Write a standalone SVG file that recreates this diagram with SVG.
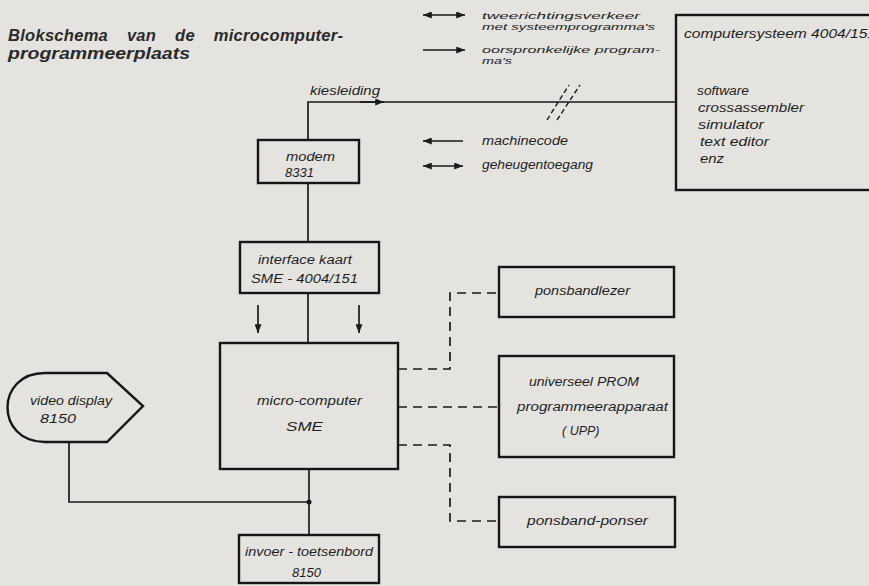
<svg xmlns="http://www.w3.org/2000/svg" width="869" height="586" viewBox="0 0 869 586">
<defs>
<style>
.bg{fill:#e4e3e0}
.box{fill:none;stroke:#161616;stroke-width:2.4}
.ln{fill:none;stroke:#1a1a1a;stroke-width:1.7}
.dash{fill:none;stroke:#1a1a1a;stroke-width:1.7;stroke-dasharray:9,6}
.sl{fill:none;stroke:#1a1a1a;stroke-width:1.4;stroke-dasharray:5,3}
.t{font-family:"Liberation Sans",Arial,sans-serif;font-style:italic;font-size:12.5px;fill:#1e1e1e}
.s{font-size:9.5px}
.title{font-family:"Liberation Sans",Arial,sans-serif;font-style:italic;font-weight:bold;font-size:16.5px;fill:#2a2a2a}
</style>
<marker id="ah" viewBox="0 0 10 8" refX="10" refY="4" markerWidth="10" markerHeight="7" markerUnits="userSpaceOnUse" orient="auto-start-reverse">
<path d="M0,0 L10,4 L0,8 Z" fill="#1a1a1a"/>
</marker>
</defs>
<rect class="bg" x="0" y="0" width="869" height="586"/>

<g id="title">
<text class="title" x="8" y="41" textLength="335" lengthAdjust="spacing" word-spacing="14">Blokschema van de microcomputer-</text>
<text class="title" x="8" y="59" textLength="182" lengthAdjust="spacingAndGlyphs">programmeerplaats</text>
</g>

<g id="legend">
<line class="ln" x1="423" y1="15" x2="465" y2="15" marker-start="url(#ah)" marker-end="url(#ah)" stroke-width="2"/>
<text class="t s" x="482" y="19" textLength="158" lengthAdjust="spacingAndGlyphs">tweerichtingsverkeer</text>
<text class="t s" x="482" y="30" textLength="173" lengthAdjust="spacingAndGlyphs">met systeemprogramma's</text>
<line class="ln" x1="423" y1="50" x2="465" y2="50" marker-end="url(#ah)"/>
<text class="t s" x="482" y="53" textLength="178" lengthAdjust="spacingAndGlyphs">oorspronkelijke program-</text>
<text class="t s" x="482" y="64" textLength="30" lengthAdjust="spacingAndGlyphs">ma's</text>
<line class="ln" x1="423" y1="141" x2="463" y2="141" marker-start="url(#ah)"/>
<text class="t" x="482" y="145" textLength="86" lengthAdjust="spacingAndGlyphs">machinecode</text>
<line class="ln" x1="423" y1="166" x2="463" y2="166" marker-start="url(#ah)" marker-end="url(#ah)" stroke-width="2"/>
<text class="t" x="482" y="169" textLength="111" lengthAdjust="spacingAndGlyphs">geheugentoegang</text>
</g>

<g id="connectors">
<path class="ln" d="M308,140 L308,102 L676,102"/>
<line class="ln" x1="360" y1="102" x2="384" y2="102" marker-end="url(#ah)"/>
<line class="sl" x1="547" y1="120" x2="569" y2="85"/>
<line class="sl" x1="557" y1="120" x2="580" y2="85"/>
<line class="ln" x1="308" y1="183" x2="308" y2="242"/>
<line class="ln" x1="308" y1="293" x2="308" y2="343"/>
<line class="ln" x1="258" y1="305" x2="258" y2="333" marker-end="url(#ah)"/>
<line class="ln" x1="359" y1="305" x2="359" y2="333" marker-end="url(#ah)"/>
<path class="ln" d="M69,442 L69,502 L309,502"/>
<line class="ln" x1="309" y1="469" x2="309" y2="535"/>
<circle cx="309" cy="502" r="2.5" fill="#1a1a1a"/>
<path class="dash" d="M398,369 L450,369 L450,293 L499,293"/>
<path class="dash" d="M398,407 L499,407"/>
<path class="dash" d="M398,445 L450,445 L450,521 L499,521"/>
</g>

<g id="computersysteem">
<rect class="box" x="676" y="15" width="200" height="175"/>
<text class="t" x="684" y="38" textLength="192" lengthAdjust="spacingAndGlyphs">computersysteem 4004/151</text>
<text class="t" x="697" y="95" textLength="52" lengthAdjust="spacingAndGlyphs">software</text>
<text class="t" x="698" y="112" textLength="106" lengthAdjust="spacingAndGlyphs">crossassembler</text>
<text class="t" x="698" y="129" textLength="66" lengthAdjust="spacingAndGlyphs">simulator</text>
<text class="t" x="700" y="146" textLength="69" lengthAdjust="spacingAndGlyphs">text editor</text>
<text class="t" x="700" y="163" textLength="24" lengthAdjust="spacingAndGlyphs">enz</text>
</g>

<g id="kiesleiding">
<text class="t" x="310" y="95" textLength="70" lengthAdjust="spacingAndGlyphs">kiesleiding</text>
</g>

<g id="modem">
<rect class="box" x="258" y="140" width="101" height="43"/>
<text class="t" x="286" y="161" textLength="49" lengthAdjust="spacingAndGlyphs">modem</text>
<text class="t" x="285" y="177" style="font-size:13px">8331</text>
</g>

<g id="interface">
<rect class="box" x="240" y="242" width="139" height="51"/>
<text class="t" x="258" y="264" textLength="94" lengthAdjust="spacingAndGlyphs">interface kaart</text>
<text class="t" x="251" y="283" textLength="107" lengthAdjust="spacingAndGlyphs">SME - 4004/151</text>
</g>

<g id="microcomputer">
<rect class="box" x="220" y="343" width="178" height="126"/>
<text class="t" x="257" y="405" textLength="105" lengthAdjust="spacingAndGlyphs">micro-computer</text>
<text class="t" x="286" y="431" textLength="37" lengthAdjust="spacingAndGlyphs">SME</text>
</g>

<g id="videodisplay">
<path class="box" d="M45,373 L107,373 L143,406 L107,442 L45,442 C-5,442 -5,373 45,373 Z"/>
<text class="t" x="30" y="405" textLength="82" lengthAdjust="spacingAndGlyphs">video display</text>
<text class="t" x="40" y="423" style="font-size:13.5px" textLength="36" lengthAdjust="spacingAndGlyphs">8150</text>
</g>

<g id="toetsenbord">
<rect class="box" x="239" y="535" width="140" height="48"/>
<text class="t" x="245" y="556" textLength="128" lengthAdjust="spacingAndGlyphs">invoer - toetsenbord</text>
<text class="t" x="292" y="577" style="font-size:13px">8150</text>
</g>

<g id="ponsbandlezer">
<rect class="box" x="499" y="267" width="175" height="50"/>
<text class="t" x="535" y="295" textLength="95" lengthAdjust="spacingAndGlyphs">ponsbandlezer</text>
</g>

<g id="upp">
<rect class="box" x="499" y="356" width="175" height="101"/>
<text class="t" x="529" y="386" textLength="110" lengthAdjust="spacingAndGlyphs">universeel PROM</text>
<text class="t" x="517" y="411" textLength="151" lengthAdjust="spacingAndGlyphs">programmeerapparaat</text>
<text class="t" x="562" y="435">( UPP)</text>
</g>

<g id="ponsbandponser">
<rect class="box" x="499" y="497" width="176" height="50"/>
<text class="t" x="527" y="525" textLength="121" lengthAdjust="spacingAndGlyphs">ponsband-ponser</text>
</g>
</svg>
